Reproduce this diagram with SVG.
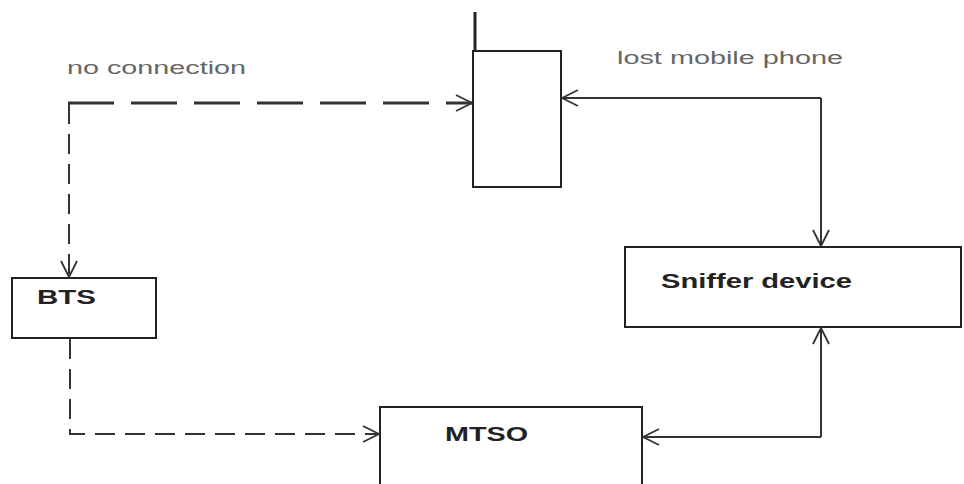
<svg xmlns="http://www.w3.org/2000/svg" width="964" height="484" viewBox="0 0 964 484">
<defs>
<style>
.box{fill:#fff;stroke:#222;stroke-width:2}
.lbl{font-family:"Liberation Sans",Arial,sans-serif;font-weight:bold;font-size:21px;fill:#222}
.note{font-family:"Liberation Sans",Arial,sans-serif;font-size:18px;fill:#666}
.solid{fill:none;stroke:#333;stroke-width:2}
.dash{fill:none;stroke:#333;stroke-width:2;stroke-dasharray:20 10}
.dashw{fill:none;stroke:#333;stroke-width:3;stroke-dasharray:46 17}
</style>
<marker id="ah" viewBox="0 0 20 20" refX="18" refY="10" markerWidth="20" markerHeight="20" markerUnits="userSpaceOnUse" orient="auto">
<path d="M2,2 L18,10 L2,18" fill="none" stroke="#333" stroke-width="1.8"/>
</marker>
</defs>
<rect width="964" height="484" fill="#fff"/>
<text class="note" x="67" y="74" textLength="179" lengthAdjust="spacingAndGlyphs">no connection</text>
<text class="note" x="617" y="64" textLength="226" lengthAdjust="spacingAndGlyphs">lost mobile phone</text>
<g id="phone">
<line x1="475" y1="12" x2="475" y2="51" stroke="#222" stroke-width="3"/>
<rect class="box" x="473" y="51" width="88" height="136"/>
</g>
<g id="bts">
<rect class="box" x="12" y="278" width="144" height="60"/>
<text class="lbl" x="37" y="304" textLength="59" lengthAdjust="spacingAndGlyphs">BTS</text>
</g>
<g id="sniffer">
<rect class="box" x="625" y="247" width="336" height="80"/>
<text class="lbl" x="661" y="288" textLength="191" lengthAdjust="spacingAndGlyphs">Sniffer device</text>
</g>
<g id="mtso">
<rect class="box" x="380" y="407" width="262" height="90"/>
<text class="lbl" x="445" y="441" textLength="83" lengthAdjust="spacingAndGlyphs">MTSO</text>
</g>
<g id="connectors">
<path class="dashw" d="M68,103 H472" marker-end="url(#ah)"/>
<path class="dash" d="M69,104 V277" marker-end="url(#ah)"/>
<path class="dash" d="M70,339 V434 H379" marker-end="url(#ah)"/>
<path class="solid" d="M821,98 H562" marker-end="url(#ah)"/>
<path class="solid" d="M821,98 V246" marker-end="url(#ah)"/>
<path class="solid" d="M821,437 V328" marker-end="url(#ah)"/>
<path class="solid" d="M821,437 H643" marker-end="url(#ah)"/>
</g>
</svg>
